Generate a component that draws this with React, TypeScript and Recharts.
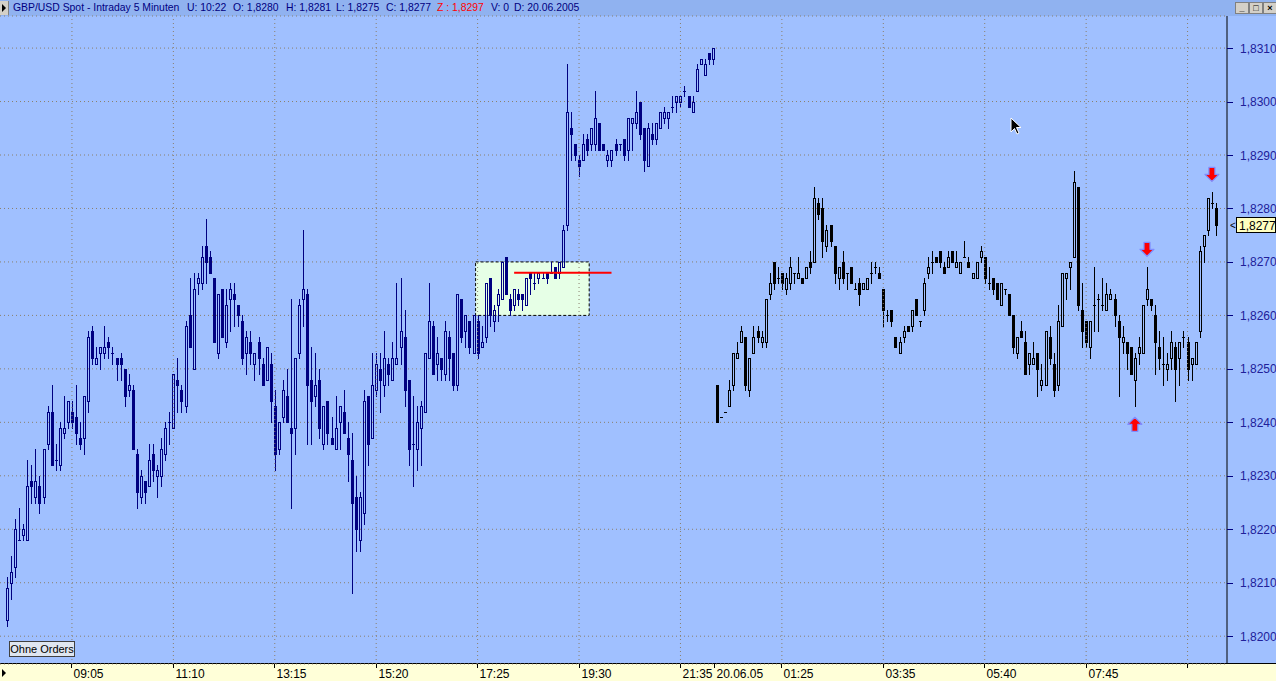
import React from 'react';
import {
  ComposedChart,
  Bar,
  XAxis,
  YAxis,
  CartesianGrid,
  ReferenceLine,
  ReferenceArea,
  ReferenceDot,
} from 'recharts';

// GBP/USD 5 min candles, values in pips above 1,8200
// Friday 17.06.2005 07:45 - 22:15
const friOpen = [3, 10, 13, 18, 19, 18, 29, 26, 28, 26, 36, 42, 33, 32, 38, 40, 42, 41, 37, 37, 44, 57, 51, 53, 53, 55, 53, 52, 52, 50, 46, 46, 34, 26, 29, 28, 34, 30, 30, 34, 40, 39, 48, 46, 43, 60, 50, 66, 66, 73, 71, 67, 53, 65, 55, 63, 64, 62, 59, 53, 55, 51, 55, 51, 48, 51, 43, 35, 41, 45, 39, 39, 53, 63, 64, 48, 45, 48, 36, 44, 37, 35, 40, 42, 37, 33, 26, 18, 23, 45, 37, 46, 50, 47, 51, 48, 51, 54, 56, 48, 36, 35, 39, 42, 52, 58, 51, 52, 49, 56, 53, 47, 63, 57, 59, 53, 59, 54, 56, 67, 59, 62, 63, 71, 63, 62, 64, 64, 62, 68, 66, 67, 67, 68, 68, 69, 68, 69, 77, 95, 92, 89, 89, 93, 92, 92, 96, 92, 89, 89, 92, 92, 93, 91, 96, 96, 100, 95, 88, 94, 93, 95, 97, 97, 99, 100, 100, 102, 101, 98, 102, 107, 105, 109, 108];
const friHigh = [11, 15, 22, 24, 21, 33, 32, 35, 30, 35, 43, 47, 36, 40, 45, 44, 44, 47, 40, 45, 57, 58, 54, 54, 58, 56, 54, 52, 53, 50, 49, 47, 35, 31, 29, 36, 36, 32, 37, 40, 42, 49, 52, 47, 59, 67, 68, 68, 73, 78, 72, 67, 64, 65, 65, 66, 66, 62, 60, 57, 57, 53, 56, 52, 54, 53, 46, 40, 48, 50, 63, 52, 63, 76, 65, 54, 53, 50, 43, 44, 41, 45, 43, 46, 40, 38, 30, 27, 46, 45, 53, 53, 53, 57, 52, 55, 66, 67, 61, 48, 45, 43, 44, 53, 66, 59, 56, 52, 59, 57, 53, 64, 63, 60, 59, 60, 60, 58, 66, 67, 62, 65, 70, 71, 64, 65, 65, 64, 67, 68, 68, 68, 68, 68, 70, 69, 70, 77, 107, 98, 92, 90, 94, 94, 95, 102, 96, 92, 91, 91, 93, 92, 93, 97, 97, 102, 100, 95, 96, 96, 96, 98, 99, 98, 101, 101, 101, 103, 101, 101, 107, 108, 108, 109, 110];
const friLow = [2, 7, 11, 18, 18, 18, 25, 25, 23, 25, 35, 32, 31, 31, 37, 39, 39, 36, 35, 34, 42, 51, 51, 50, 52, 52, 51, 48, 48, 43, 45, 35, 24, 25, 25, 28, 29, 26, 28, 33, 36, 39, 42, 42, 42, 54, 50, 64, 65, 66, 68, 55, 52, 56, 54, 57, 58, 58, 51, 49, 51, 48, 49, 47, 48, 40, 31, 34, 40, 40, 24, 34, 52, 58, 36, 36, 43, 37, 35, 36, 36, 35, 35, 38, 29, 8, 16, 16, 21, 32, 37, 45, 42, 45, 47, 48, 51, 51, 43, 32, 28, 31, 32, 42, 52, 49, 48, 48, 48, 48, 46, 46, 55, 54, 53, 53, 52, 54, 55, 58, 57, 59, 63, 64, 60, 61, 62, 61, 62, 64, 65, 66, 67, 66, 68, 67, 67, 69, 76, 89, 89, 86, 89, 90, 91, 91, 91, 91, 88, 88, 90, 91, 89, 89, 91, 95, 93, 87, 88, 92, 92, 95, 96, 95, 98, 98, 99, 101, 99, 98, 102, 107, 105, 107, 107];
const friClose = [9, 12, 20, 18, 20, 28, 28, 29, 25, 35, 42, 32, 33, 39, 39, 44, 40, 38, 36, 45, 56, 52, 52, 54, 54, 54, 53, 51, 51, 45, 47, 35, 27, 30, 27, 33, 31, 31, 35, 39, 40, 49, 47, 44, 58, 54, 65, 67, 71, 70, 68, 55, 64, 56, 62, 65, 63, 60, 52, 56, 53, 53, 52, 47, 54, 44, 34, 40, 46, 40, 38, 52, 62, 65, 47, 44, 47, 39, 43, 38, 36, 39, 43, 38, 34, 25, 20, 26, 44, 36, 47, 51, 48, 52, 49, 52, 52, 57, 46, 35, 36, 40, 43, 53, 59, 49, 53, 50, 57, 52, 47, 64, 56, 60, 54, 60, 53, 55, 66, 60, 61, 64, 70, 64, 61, 65, 63, 63, 67, 67, 66, 68, 67, 67, 68, 67, 70, 76, 98, 94, 90, 88, 92, 91, 95, 97, 91, 91, 90, 91, 91, 92, 90, 97, 97, 98, 94, 89, 95, 93, 96, 98, 98, 98, 99, 101, 101, 102, 99, 100, 106, 108, 107, 108, 110];

// Monday 20.06.2005 from 00:00
const monOpen = [47, 41, 42, 43, 47, 52, 55, 56, 46, 53, 57, 55, 55, 64, 70, 67, 68, 65, 66, 68, 67, 67, 67, 70, 70, 81, 80, 73, 77, 73, 67, 70, 68, 69, 65, 66, 65, 65, 68, 69, 68, 65, 60, 61, 56, 53, 56, 58, 58, 63, 59, 61, 68, 70, 71, 72, 69, 69, 72, 69, 68, 71, 70, 67, 67, 71, 71, 66, 67, 66, 62, 65, 64, 60, 53, 57, 55, 51, 51, 53, 47, 47, 56, 51, 47, 58, 67, 69, 71, 84, 61, 59, 54, 62, 63, 62, 61, 63, 63, 59, 55, 55, 54, 48, 53, 53, 63, 63, 60, 54, 51, 50, 52, 54, 52, 56, 55, 51, 51, 57, 73, 76, 81, 80];
const monHigh = [47, 41, 42, 48, 53, 55, 58, 56, 52, 58, 58, 57, 63, 68, 70, 69, 68, 68, 71, 68, 71, 67, 69, 72, 84, 82, 82, 77, 77, 73, 69, 72, 68, 69, 66, 67, 66, 67, 70, 70, 69, 65, 61, 61, 56, 56, 58, 58, 61, 63, 59, 67, 71, 72, 71, 72, 70, 72, 72, 72, 70, 74, 71, 68, 70, 73, 71, 69, 67, 66, 66, 65, 64, 60, 56, 59, 57, 53, 55, 53, 51, 57, 58, 53, 62, 68, 68, 70, 87, 84, 66, 59, 59, 69, 64, 67, 66, 65, 64, 60, 58, 55, 54, 53, 56, 62, 69, 63, 62, 57, 56, 53, 57, 55, 55, 57, 56, 52, 55, 73, 75, 82, 83, 81];
const monLow = [40, 41, 42, 43, 46, 52, 55, 46, 45, 53, 55, 54, 54, 63, 65, 66, 65, 64, 65, 66, 67, 66, 67, 68, 70, 78, 71, 72, 73, 66, 65, 66, 65, 66, 65, 62, 65, 65, 66, 68, 67, 58, 59, 58, 54, 53, 55, 57, 57, 60, 58, 60, 67, 68, 70, 69, 68, 69, 70, 69, 68, 71, 69, 67, 67, 70, 66, 65, 64, 63, 62, 64, 60, 53, 52, 56, 49, 49, 51, 45, 46, 47, 51, 45, 46, 58, 63, 65, 71, 61, 54, 54, 52, 57, 57, 61, 61, 63, 58, 45, 53, 50, 49, 43, 51, 53, 62, 61, 49, 50, 47, 48, 50, 44, 47, 54, 48, 48, 51, 56, 70, 75, 80, 75];
const monClose = [40, 41, 42, 46, 53, 53, 57, 47, 52, 56, 56, 56, 63, 66, 66, 67, 66, 67, 69, 68, 68, 66, 69, 69, 82, 79, 74, 76, 74, 68, 69, 67, 68, 66, 65, 64, 66, 67, 68, 69, 67, 61, 60, 59, 54, 55, 57, 57, 61, 60, 59, 66, 69, 70, 70, 70, 68, 71, 70, 70, 70, 71, 69, 68, 70, 72, 67, 66, 65, 63, 66, 65, 60, 54, 56, 56, 49, 53, 52, 50, 48, 57, 52, 46, 59, 68, 68, 70, 85, 62, 57, 55, 59, 62, 63, 62, 64, 64, 60, 56, 56, 53, 49, 52, 54, 62, 65, 62, 55, 52, 51, 51, 55, 50, 55, 56, 50, 52, 55, 72, 75, 82, 81, 77];

// x axis: bar index of each time tick and its label
const timeTickIdx = [16, 41, 66, 91, 116, 141, 166, 191, 216, 241, 266, 291];
const timeTickLabels = ['09:05', '11:10', '13:15', '15:20', '17:25', '19:30', '21:35', '01:25', '03:35', '05:40', '07:45', ''];
const dateTickIdx = 175;
const dateTickLabel = '20.06.05';

const priceTicks = [1.82, 1.821, 1.822, 1.823, 1.824, 1.825, 1.826, 1.827, 1.828, 1.829, 1.83, 1.831];

// drawn objects on the chart
const boxBars = [116, 143];
const boxPrices = [1.826, 1.827];
const redLineBars = [125, 149];
const redLinePrice = 1.8268;
const markers = [
  { i: 281, dir: 'down' },
  { i: 297, dir: 'down' },
  { i: 278, dir: 'up' },
];

const BASE = 1.82;
const PIP = 0.0001;
const allOpen = [...friOpen, ...monOpen];
const allHigh = [...friHigh, ...monHigh];
const allLow = [...friLow, ...monLow];
const allClose = [...friClose, ...monClose];

const candles = allOpen.map((o, i) => ({
  i,
  open: BASE + o * PIP,
  high: BASE + allHigh[i] * PIP,
  low: BASE + allLow[i] * PIP,
  close: BASE + allClose[i] * PIP,
  monday: i >= friOpen.length,
}));

const last = candles[candles.length - 1];
const fmt = (v: number) => v.toFixed(4).replace('.', ',');

const NAVY = '#000080';
const GRID = '#8a7f6c';

const CandleShape = (props: any) => {
  const { x, y, width, height, payload } = props;
  if (x == null || y == null || !payload) return null;
  const { open, high, low, close, monday } = payload;
  const top = Math.min(y, y + height);
  const bot = Math.max(y, y + height);
  const span = high - low;
  const toY = (v: number) => (span > 0 ? top + ((high - v) / span) * (bot - top) : top);
  const color = monday ? '#000000' : NAVY;
  const cx = Math.floor(x + width / 2);
  const yH = Math.round(toY(high));
  const yL = Math.round(toY(low));
  const yO = Math.round(toY(open));
  const yC = Math.round(toY(close));
  const bTop = Math.min(yO, yC);
  const bBot = Math.max(yO, yC);
  const wx = cx + 0.5;
  if (bBot - bTop < 1 || Math.abs(close - open) < PIP / 2) {
    return (
      <g shapeRendering="crispEdges">
        <line x1={wx} x2={wx} y1={yH} y2={yL + 1} stroke={color} />
        <line x1={cx - 1} x2={cx + 2} y1={bTop + 0.5} y2={bTop + 0.5} stroke={color} />
      </g>
    );
  }
  const up = close > open;
  return (
    <g shapeRendering="crispEdges">
      {yH < bTop && <line x1={wx} x2={wx} y1={yH} y2={bTop} stroke={color} />}
      {yL > bBot && <line x1={wx} x2={wx} y1={bBot} y2={yL + 1} stroke={color} />}
      {up ? (
        <rect x={cx - 0.5} y={bTop + 0.5} width={2} height={bBot - bTop} fill="none" stroke={color} />
      ) : (
        <rect x={cx - 1} y={bTop} width={3} height={bBot - bTop + 1} fill={color} />
      )}
    </g>
  );
};

const TimeTick = (props: any) => {
  const { x, y, payload } = props;
  const v = payload.value;
  const isDate = v === dateTickIdx;
  const label = isDate ? dateTickLabel : timeTickLabels[timeTickIdx.indexOf(v)];
  const tx = Math.floor(isDate ? x - 2 : x) + 0.5;
  return (
    <g>
      <line x1={tx} x2={tx} y1={y} y2={y + 4} stroke="#000" shapeRendering="crispEdges" />
      <text x={tx + 2} y={y + 14} fontSize={12} fill="#000" fontFamily="Liberation Sans, Arial, sans-serif">
        {label}
      </text>
    </g>
  );
};

const PriceTick = (props: any) => {
  const { x, y, payload } = props;
  const ty = Math.round(y) + 0.5;
  return (
    <g>
      <line x1={x} x2={x + 6} y1={ty} y2={ty} stroke={NAVY} shapeRendering="crispEdges" />
      <text x={x + 13} y={y + 4.5} fontSize={12} fill="#20209a" fontFamily="Liberation Sans, Arial, sans-serif">
        {fmt(payload.value)}
      </text>
    </g>
  );
};

const Arrow = (props: any) => {
  const { cx, cy, dir } = props;
  if (cx == null || cy == null) return null;
  const down = dir === 'down';
  const tip = down ? cy - 11 : cy + 11;
  const s = down ? -1 : 1;
  const pts = [
    [cx, tip],
    [cx - 7, tip + s * 7],
    [cx - 3, tip + s * 7],
    [cx - 3, tip + s * 14],
    [cx + 3, tip + s * 14],
    [cx + 3, tip + s * 7],
    [cx + 7, tip + s * 7],
  ]
    .map((p) => p.join(','))
    .join(' ');
  return <polygon points={pts} fill="#ff0000" stroke="#7f8cff" strokeWidth={1.2} strokeLinejoin="round" />;
};

const PriceTag = (props: any) => {
  const { viewBox } = props;
  if (!viewBox) return null;
  const x0 = viewBox.x + viewBox.width;
  const yy = Math.round(viewBox.y);
  return (
    <g>
      <text x={x0 + 3} y={yy + 4} fontSize={10} fill="#000" fontFamily="Liberation Sans, Arial, sans-serif">
        {'<'}
      </text>
      <rect x={x0 + 9.5} y={yy - 7.5} width={39} height={15} fill="#ffffc0" stroke="#000" shapeRendering="crispEdges" />
      <text x={x0 + 12} y={yy + 4.5} fontSize={12} fill="#000" fontFamily="Liberation Sans, Arial, sans-serif">
        {fmt(last.close)}
      </text>
    </g>
  );
};

const headerItems = [
  { x: 13, text: 'GBP/USD Spot - Intraday 5 Minuten', color: NAVY },
  { x: 187, text: 'U: 10:22', color: NAVY },
  { x: 233, text: 'O: ' + fmt(last.open), color: NAVY },
  { x: 286, text: 'H: ' + fmt(last.high), color: NAVY },
  { x: 336, text: 'L: ' + fmt(last.low), color: NAVY },
  { x: 386, text: 'C: ' + fmt(last.close), color: NAVY },
  { x: 437, text: 'Z : 1,8297', color: '#ff0000' },
  { x: 491, text: 'V: 0', color: NAVY },
  { x: 514, text: 'D: 20.06.2005', color: NAVY },
];

const winBtn: React.CSSProperties = {
  position: 'absolute',
  top: 2,
  width: 12,
  height: 10,
  background: '#d4d0c8',
  border: '1px solid #808080',
  fontSize: 9,
  lineHeight: '10px',
  textAlign: 'center',
  color: '#000',
  fontWeight: 'bold',
};

export default function App() {
  return (
    <div
      style={{
        position: 'absolute',
        left: 0,
        top: 0,
        width: 1276,
        height: 681,
        overflow: 'hidden',
        background: '#a0c0ff',
        fontFamily: 'Liberation Sans, Arial, sans-serif',
      }}
    >
      {/* header bar */}
      <div style={{ position: 'absolute', left: 0, top: 0, width: 1276, height: 16, background: '#90b2f0' }}>
        <div style={{ position: 'absolute', left: 0, top: 1, width: 8, height: 14, background: '#d4d0c8', borderRight: '1px solid #808080' }}>
          <div style={{ position: 'absolute', left: 2, top: 3, width: 0, height: 0, borderTop: '4px solid transparent', borderBottom: '4px solid transparent', borderLeft: '4px solid #000' }} />
        </div>
        {headerItems.map((h) => (
          <span key={h.x} style={{ position: 'absolute', left: h.x, top: 2, fontSize: 10.4, color: h.color, whiteSpace: 'nowrap' }}>
            {h.text}
          </span>
        ))}
        <div style={{ ...winBtn, left: 1235 }}>_</div>
        <div style={{ ...winBtn, left: 1249 }}>□</div>
        <div style={{ ...winBtn, left: 1263 }}>×</div>
      </div>
      {/* time axis band */}
      <div style={{ position: 'absolute', left: 0, top: 663, width: 1276, height: 18, background: '#ffffd8', borderTop: '1px solid #000', boxSizing: 'border-box' }}>
        <div style={{ position: 'absolute', left: 2, top: 5, width: 0, height: 0, borderTop: '4px solid transparent', borderBottom: '4px solid transparent', borderLeft: '4px solid #000' }} />
      </div>
      <div style={{ position: 'absolute', left: 0, top: 0 }}>
        <ComposedChart
          width={1276}
          height={681}
          data={candles}
          margin={{ top: 16, right: 0, bottom: 0, left: 0 }}
          barSize={3}
        >
          <CartesianGrid vertical={false} stroke={GRID} strokeDasharray="1 3" />
          <XAxis
            dataKey="i"
            type="category"
            ticks={[...timeTickIdx, dateTickIdx]}
            interval={0}
            tick={<TimeTick />}
            tickLine={false}
            tickSize={0}
            tickMargin={0}
            axisLine={false}
            height={17}
            padding={{ left: 5, right: 9 }}
          />
          <YAxis
            orientation="right"
            domain={[1.81948, 1.8316]}
            allowDataOverflow
            ticks={priceTicks}
            interval={0}
            width={49}
            axisLine={{ stroke: '#000' }}
            tickLine={false}
            tickSize={0}
            tickMargin={0}
            tick={<PriceTick />}
          />
          {timeTickIdx.map((t) => (
            <ReferenceLine key={t} x={t} stroke={GRID} strokeDasharray="1 3" />
          ))}
          <ReferenceArea
            x1={boxBars[0]}
            x2={boxBars[1]}
            y1={boxPrices[0]}
            y2={boxPrices[1]}
            fill="#e6ffe6"
            fillOpacity={1}
            stroke="#000"
            strokeDasharray="3 2"
          />
          <Bar
            dataKey={(d: any) => [d.low, d.high]}
            shape={<CandleShape />}
            isAnimationActive={false}
          />
          <ReferenceLine
            segment={[
              { x: redLineBars[0], y: redLinePrice },
              { x: redLineBars[1], y: redLinePrice },
            ]}
            stroke="#ff0000"
            strokeWidth={2}
          />
          {markers.map((m) => (
            <ReferenceDot
              key={m.i}
              x={m.i}
              y={m.dir === 'down' ? candles[m.i].high : candles[m.i].low}
              r={1}
              ifOverflow="visible"
              shape={(p: any) => <Arrow cx={p.cx} cy={p.cy} dir={m.dir} />}
            />
          ))}
          <ReferenceLine y={last.close} stroke="none" label={<PriceTag />} />
        </ComposedChart>
      </div>
      {/* order button */}
      <div
        style={{
          position: 'absolute',
          left: 9,
          top: 641,
          width: 66,
          height: 16,
          boxSizing: 'border-box',
          border: '1px solid #404040',
          background: '#dfe6f0',
          fontSize: 11,
          lineHeight: '14px',
          textAlign: 'center',
          color: '#000',
        }}
      >
        Ohne Orders
      </div>
      {/* mouse pointer */}
      <svg style={{ position: 'absolute', left: 1010, top: 117 }} width={14} height={20}>
        <polygon points="1,1 1,15 4.5,11.5 7,17 9,16 6.5,10.5 11,10.5" fill="#000" stroke="#fff" strokeWidth={1} />
      </svg>
    </div>
  );
}
